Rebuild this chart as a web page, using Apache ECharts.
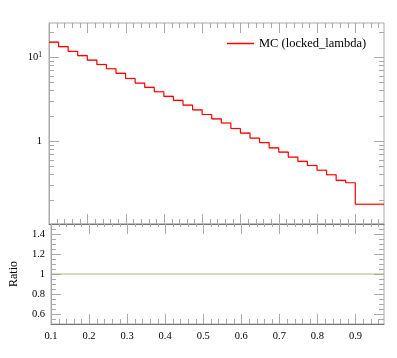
<!DOCTYPE html>
<html><head><meta charset="utf-8">
<script src="https://cdn.jsdelivr.net/npm/echarts@6/dist/echarts.min.js"></script>
<style>html,body{margin:0;padding:0;background:#fff}#c{width:397px;height:358px}</style>
</head><body><div id="c"></div>
<script>
// bin edges (last bin is the wide overflow-style bin 0.9-0.975)
const binEdges = [0.1, 0.125, 0.15, 0.175, 0.2, 0.225, 0.25, 0.275, 0.3, 0.325, 0.35, 0.375,
  0.4, 0.425, 0.45, 0.475, 0.5, 0.525, 0.55, 0.575, 0.6, 0.625, 0.65, 0.675, 0.7, 0.725,
  0.75, 0.775, 0.8, 0.825, 0.85, 0.875, 0.9, 0.975];
// MC (locked_lambda) bin contents
const mcValues = [15.0, 13.3, 11.7, 10.4, 9.2, 8.15, 7.25, 6.4, 5.55, 4.9, 4.35, 3.86, 3.4,
  3.04, 2.67, 2.35, 2.07, 1.84, 1.64, 1.41, 1.245, 1.085, 0.96, 0.83, 0.74, 0.645, 0.572,
  0.512, 0.449, 0.397, 0.34, 0.319, 0.177];
// relative uncertainty (band)
const mcRelErr = [0.03, 0.025, 0.01, 0.025, 0.025, 0.025, 0.025, 0.025, 0.025, 0.01, 0.025, 0.025, 0.025,
  0.025, 0.025, 0.025, 0.01, 0.025, 0.025, 0.025, 0.025, 0.01, 0.01, 0.025, 0.025, 0.01, 0.025,
  0.025, 0.025, 0.025, 0.025, 0.01, 0.025];
// ratio MC / MC
const ratioValues = [1, 1, 1, 1, 1, 1, 1, 1, 1, 1, 1, 1, 1, 1, 1, 1, 1, 1, 1, 1, 1, 1, 1, 1,
  1, 1, 1, 1, 1, 1, 1, 1, 1];
// tick values
const xMajorTicks = [0.1, 0.2, 0.3, 0.4, 0.5, 0.6, 0.7, 0.8, 0.9];
const xMinorTicks = [0.12, 0.14, 0.16, 0.18, 0.22, 0.24, 0.26, 0.28, 0.32, 0.34, 0.36, 0.38,
  0.42, 0.44, 0.46, 0.48, 0.52, 0.54, 0.56, 0.58, 0.62, 0.64, 0.66, 0.68, 0.72, 0.74, 0.76,
  0.78, 0.82, 0.84, 0.86, 0.88, 0.92, 0.94, 0.96];
const mainYMajor = [1, 10];
const mainYMinor = [0.2, 0.3, 0.4, 0.5, 0.6, 0.7, 0.8, 0.9, 2, 3, 4, 5, 6, 7, 8, 9, 20];
const ratioYMajor = [0.6, 0.8, 1.0, 1.2, 1.4];
const ratioYMinor = [0.55, 0.65, 0.7, 0.75, 0.85, 0.9, 0.95, 1.05, 1.1, 1.15, 1.25, 1.3, 1.35, 1.45];
const ratioLabels = [0.6, 0.8, 1, 1.2, 1.4];
const xLabels = [0.1, 0.2, 0.3, 0.4, 0.5, 0.6, 0.7, 0.8, 0.9];
const legendName = 'MC (locked_lambda)';

const FONT = 'Liberation Serif';
const n = mcValues.length;
const mainLine = binEdges.map((x, i) => [x, mcValues[Math.min(i, n - 1)]]);
const ratioLine = binEdges.map((x, i) => [x, ratioValues[Math.min(i, n - 1)]]);
const bandData = mcValues.map((v, i) => [binEdges[i], binEdges[i + 1], v, mcRelErr[i]]);

function tickData(yMid, yMajor, yMinor) {
  const d = [];
  xMajorTicks.forEach(v => d.push([v, yMid, 0]));
  xMinorTicks.forEach(v => d.push([v, yMid, 1]));
  yMajor.forEach(v => d.push([0.5, v, 2]));
  yMinor.forEach(v => d.push([0.5, v, 3]));
  return d;
}
function tickRenderer(topMinor) {
  return function (params, api) {
    const cs = params.coordSys;
    const kind = api.value(2);
    const style = { stroke: '#a9a9a9', lineWidth: 1 };
    const ch = [];
    if (kind < 2) {
      const px = Math.round(api.coord([api.value(0), api.value(1)])[0]) + 0.5;
      const lenTop = kind === 0 ? 10 : topMinor;
      const lenBot = kind === 0 ? 10 : 5;
      const y0 = cs.y, y1 = cs.y + cs.height;
      ch.push({ type: 'line', shape: { x1: px, y1: y0, x2: px, y2: y0 + lenTop }, style });
      ch.push({ type: 'line', shape: { x1: px, y1: y1, x2: px, y2: y1 - lenBot }, style });
    } else {
      const py = Math.round(api.coord([api.value(0), api.value(1)])[1]) + 0.5;
      const len = kind === 2 ? 10 : 5;
      const x0 = cs.x, x1 = cs.x + cs.width;
      ch.push({ type: 'line', shape: { x1: x0, y1: py, x2: x0 + len, y2: py }, style });
      ch.push({ type: 'line', shape: { x1: x1, y1: py, x2: x1 - len, y2: py }, style });
    }
    return { type: 'group', children: ch };
  };
}

const chart = echarts.init(document.getElementById('c'), null, { renderer: 'canvas' });
const xCommon = { type: 'value', min: 0.1, max: 0.975, splitLine: { show: false }, axisTick: { show: false } };
chart.setOption({
  animation: false,
  backgroundColor: '#fff',
  grid: [
    { left: 49, top: 23, width: 335, height: 201, show: true, borderColor: '#aaaaaa', borderWidth: 1, containLabel: false },
    { left: 49, top: 224, width: 335, height: 100, show: true, borderColor: '#aaaaaa', borderWidth: 1, containLabel: false }
  ],
  xAxis: [
    Object.assign({}, xCommon, { gridIndex: 0, axisLabel: { show: false }, z: 3,
      axisLine: { show: true, lineStyle: { color: '#777', width: 1 } } }),
    Object.assign({}, xCommon, { gridIndex: 1, interval: 0.1, z: 3,
      axisLine: { show: true, lineStyle: { color: '#777', width: 1 } },
      axisLabel: { show: true, margin: 7, showMaxLabel: false, fontFamily: FONT, fontSize: 10.5, color: '#000',
        formatter: v => { const m = xLabels.find(t => Math.abs(t - v) < 1e-6); return m === undefined ? '' : m.toFixed(1); } } })
  ],
  yAxis: [
    { gridIndex: 0, type: 'log', logBase: 10, min: 0.103, max: 25.4, splitLine: { show: false },
      axisTick: { show: false }, axisLine: { show: true, lineStyle: { color: '#aaa' } },
      axisLabel: { show: true, margin: 7, showMinLabel: false, showMaxLabel: false, fontFamily: FONT, color: '#000',
        formatter: v => Math.abs(v - 10) < 1e-6 ? '{b|10}{s|1}' : (Math.abs(v - 1) < 1e-6 ? '{b|1}' : ''),
        rich: { b: { fontFamily: FONT, fontSize: 10.5, color: '#000' },
                s: { fontFamily: FONT, fontSize: 7.5, color: '#000', verticalAlign: 'bottom', padding: [0, 0, 4, 0] } } } },
    { gridIndex: 1, type: 'value', min: 0.5, max: 1.5, interval: 0.1, splitLine: { show: false },
      axisTick: { show: false }, axisLine: { show: true, lineStyle: { color: '#aaa' } },
      name: 'Ratio', nameLocation: 'middle', nameGap: 31, nameRotate: 90,
      nameTextStyle: { fontFamily: FONT, fontSize: 12, color: '#000' },
      axisLabel: { show: true, margin: 6, fontFamily: FONT, fontSize: 10.5, color: '#000',
        formatter: v => { const m = ratioLabels.find(t => Math.abs(t - v) < 1e-6); return m === undefined ? '' : String(m); } } }
  ],
  legend: {
    data: [legendName], left: 227, top: 37, padding: 0, icon: 'rect', itemWidth: 27, itemHeight: 1.5,
    textStyle: { fontFamily: FONT, fontSize: 12.5, color: '#000' }
  },
  series: [
    { type: 'custom', name: 'band', xAxisIndex: 0, yAxisIndex: 0, silent: true, z: 1,
      encode: { x: [0, 1], y: 2 }, data: bandData,
      renderItem: (params, api) => {
        const v = api.value(2), e = api.value(3);
        const p1 = api.coord([api.value(0), v * (1 + e)]);
        const p2 = api.coord([api.value(1), v * (1 - e)]);
        return { type: 'rect', shape: { x: p1[0], y: p1[1], width: p2[0] - p1[0], height: p2[1] - p1[1] },
          style: { fill: 'rgba(255,80,80,0.35)' } };
      } },
    { type: 'line', name: legendName, xAxisIndex: 0, yAxisIndex: 0, data: mainLine, step: 'end',
      symbol: 'none', color: '#ff0000', lineStyle: { color: '#ff0000', width: 1.2 }, z: 2 },
    { type: 'line', name: 'ratio', xAxisIndex: 1, yAxisIndex: 1, data: ratioLine, step: 'end',
      symbol: 'none', color: '#b4b07a', lineStyle: { color: '#b4b07a', width: 1.2 }, z: 2 },
    { type: 'custom', name: 'ticksMain', xAxisIndex: 0, yAxisIndex: 0, silent: true, clip: false, z: 4,
      encode: { x: 0, y: 1 }, data: tickData(1, mainYMajor, mainYMinor), renderItem: tickRenderer(5) },
    { type: 'custom', name: 'ticksRatio', xAxisIndex: 1, yAxisIndex: 1, silent: true, clip: false, z: 4,
      encode: { x: 0, y: 1 }, data: tickData(1, ratioYMajor, ratioYMinor), renderItem: tickRenderer(3) }
  ]
});
</script>
</body></html>
